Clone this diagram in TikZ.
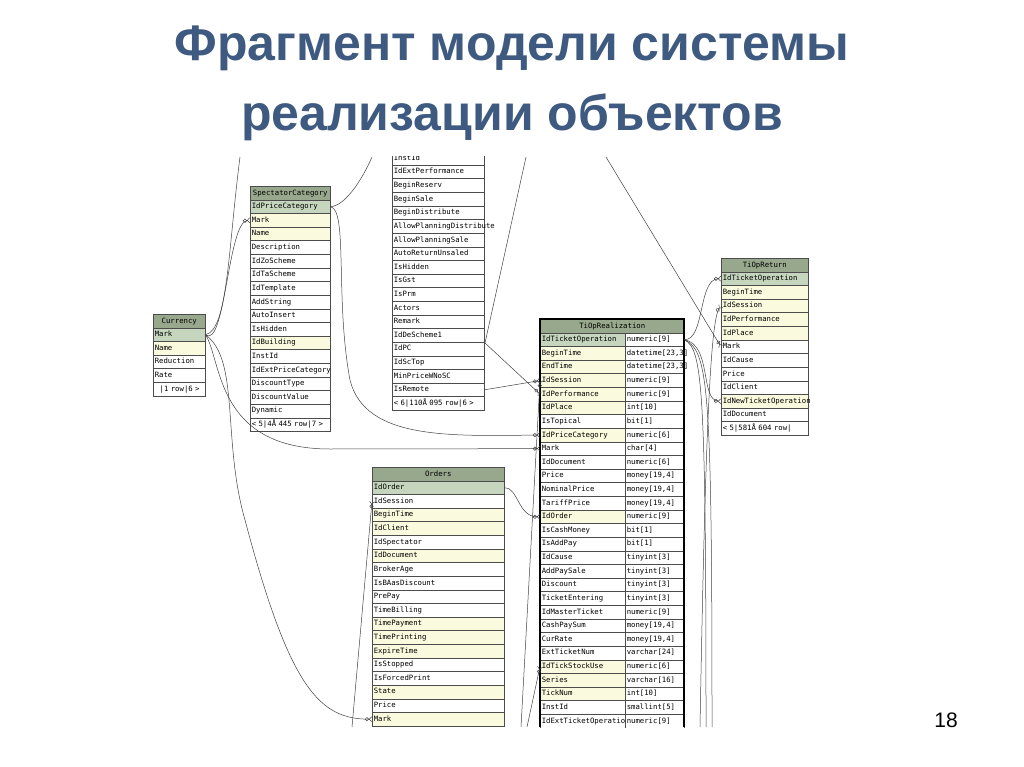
\documentclass[tikz,border=0pt]{standalone}
\usepackage{fontspec}
\setmainfont{Liberation Sans}
\newfontfamily\monof{DejaVu Sans Mono}
\usetikzlibrary{arrows.meta}
\definecolor{hdr}{RGB}{152,168,140}
\definecolor{key}{RGB}{198,214,190}
\definecolor{yel}{RGB}{250,250,222}
\definecolor{ttl}{RGB}{62,90,128}
\tikzset{
 cell/.style={draw=black!70,line width=0.5pt,anchor=north west,inner ysep=0pt,inner xsep=1.5pt,minimum height=13.62pt,
   font=\monof\fontsize{7.3}{8}\selectfont,text height=5.5pt,text depth=1.5pt,align=left},
 hcell/.style={cell,fill=hdr,align=center},
 conn/.style={draw=black!75,line width=0.5pt},
 fk/.style={conn,-{Circle[open,length=4pt,sep=0pt]Straight Barb[reversed,length=2.5pt,width=5pt]}}
}
\newcommand{\tablebox}[6]{%
 \pgfmathsetmacro\tw{#4-3}
 \node[hcell,minimum width=#4pt,text width=\tw pt] (#1-0) at (#2,#3) {#5};
 \foreach[count=\i] \t/\c in {#6} {
   \node[cell,fill=\c,minimum width=#4pt,text width=\tw pt] (#1-\i) at (#2,{#3+\i*13.62}) {\t};
 }}
\begin{document}
\begin{tikzpicture}[x=1pt,y=-1pt]
\useasboundingbox (0,0) rectangle (1024,767);
\node[font=\bfseries\fontsize{50}{70}\selectfont,text=ttl,align=center] (title) at (512,83)
 {Фрагмент модели системы\\реализации объектов};
\node[font=\fontsize{21}{24}\selectfont] (pg) at (946,720) {18};
\begin{scope}
\clip (140,157) rectangle (830,727);
% SpectatorCategory
\tablebox{S}{250}{186}{80}{SpectatorCategory}{IdPriceCategory/key,Mark/yel,Name/yel,Description/white,IdZoScheme/white,IdTaScheme/white,IdTemplate/white,AddString/white,AutoInsert/white,IsHidden/white,IdBuilding/yel,InstId/white,IdExtPriceCategory/white,DiscountType/white,DiscountValue/white,Dynamic/white,{< 5|4Å 445 row|7 >}/white}
% Currency
\tablebox{C}{153}{314}{52}{Currency}{Mark/key,Name/yel,Reduction/white,Rate/white,{\ \ |1 row|6 >}/white}
% middle
\tablebox{M}{392}{137.6}{92}{}{InstId/white,IdExtPerformance/white,BeginReserv/white,BeginSale/white,BeginDistribute/white,AllowPlanningDistribute/white,AllowPlanningSale/white,AutoReturnUnsaled/white,IsHidden/white,IsGst/white,IsPrm/white,Actors/white,Remark/white,IdDeScheme1/white,IdPC/white,IdScTop/white,MinPriceWNoSC/white,IsRemote/white,{< 6|110Å 095 row|6 >}/white}
% TiOpReturn
\tablebox{R}{721}{258}{87}{TiOpReturn}{IdTicketOperation/key,BeginTime/yel,IdSession/yel,IdPerformance/yel,IdPlace/yel,Mark/white,IdCause/white,Price/white,IdClient/white,IdNewTicketOperation/yel,IdDocument/white,{< 5|581Å 604 row|}/white}
% Orders
\tablebox{O}{372}{467}{132}{Orders}{IdOrder/key,IdSession/white,BeginTime/yel,IdClient/yel,IdSpectator/white,IdDocument/yel,BrokerAge/white,IsBAasDiscount/white,PrePay/white,TimeBilling/white,TimePayment/yel,TimePrinting/yel,ExpireTime/yel,IsStopped/white,IsForcedPrint/white,State/yel,Price/white,Mark/yel}
% TiOpRealization
\node[hcell,minimum width=144pt,text width=141pt] (T-0) at (540,319) {TiOpRealization};
\foreach[count=\i] \t/\ty/\c in {IdTicketOperation/numeric[9]/key,BeginTime/{datetime[23,3]}/yel,EndTime/{datetime[23,3]}/yel,IdSession/numeric[9]/yel,IdPerformance/numeric[9]/yel,IdPlace/int[10]/yel,IsTopical/bit[1]/white,IdPriceCategory/numeric[6]/yel,Mark/char[4]/white,IdDocument/numeric[6]/white,Price/{money[19,4]}/white,NominalPrice/{money[19,4]}/white,TariffPrice/{money[19,4]}/white,IdOrder/numeric[9]/yel,IsCashMoney/bit[1]/white,IsAddPay/bit[1]/white,IdCause/tinyint[3]/white,AddPaySale/tinyint[3]/white,Discount/tinyint[3]/white,TicketEntering/tinyint[3]/white,IdMasterTicket/numeric[9]/white,CashPaySum/{money[19,4]}/white,CurRate/{money[19,4]}/white,ExtTicketNum/varchar[24]/white,IdTickStockUse/numeric[6]/yel,Series/varchar[16]/yel,TickNum/int[10]/yel,InstId/smallint[5]/white,IdExtTicketOperation/numeric[9]/white} {
 \node[cell,fill=\c,minimum width=85pt,text width=82pt] (T-\i) at (540,{319+\i*13.62}) {\t};
 \node[cell,fill=white,minimum width=59pt,text width=56pt] (TT-\i) at (625,{319+\i*13.62}) {\ty};
}
\draw[line width=1.6pt] (540,727) |- (684,319) -- (684,727);
% free ends
\coordinate (t1) at (240,157); \coordinate (t2) at (372,157);
\coordinate (t3) at (526,157); \coordinate (t4) at (606,157);
\coordinate (b1) at (700,727); \coordinate (b2) at (352,727);
\coordinate (b3) at (521,727); \coordinate (b4) at (527,727);
\coordinate (b5) at (706,727); \coordinate (b6) at (712,727);
% connectors
\draw[conn] (t1) .. controls (228,250) and (228,330) .. (C-1.east);
\draw[fk] (C-1.east) .. controls (225,350) and (228,222) .. (S-2.west);
\draw[fk] (C-1.east) .. controls (222,360) and (215,449) .. (330,449) -- (T-9.west);
\draw[fk] (C-1.east) .. controls (240,360) and (222,440) .. (245,520) .. controls (290,690) and (320,719) .. (O-18.west);
\draw[conn] (S-1.east) .. controls (345,206) and (362,180) .. (t2);
\draw[fk] (S-1.east) .. controls (348,210) and (335,300) .. (350,380) .. controls (365,440) and (450,436) .. (T-8.west);
\draw[fk] (t3) -- (485,343) -- (T-5.west);
\draw[fk] (M-18.east) -- (T-4.west);
\draw[fk] (t4) -- (R-6.west);
\draw[fk] (TT-1.east) .. controls (705,340) and (698,279) .. (R-1.west);
\draw[fk] (TT-1.east) .. controls (712,345) and (700,400) .. (R-10.west);
\draw[conn] (TT-1.east) .. controls (702,350) and (706,380) .. (b5);
\draw[conn] (TT-1.east) .. controls (708,352) and (712,380) .. (b6);
\draw[fk] (b1) .. controls (705,450) and (710,320) .. (R-3.west);
\draw[fk] (O-1.east) .. controls (518,487) and (518,517) .. (T-14.west);
\draw[fk] (b2) -- (O-2.west);
\draw[fk] (b3) -- (T-4.west);
\draw[fk] (b4) -- (T-25.west);
\end{scope}
\end{tikzpicture}
\end{document}
